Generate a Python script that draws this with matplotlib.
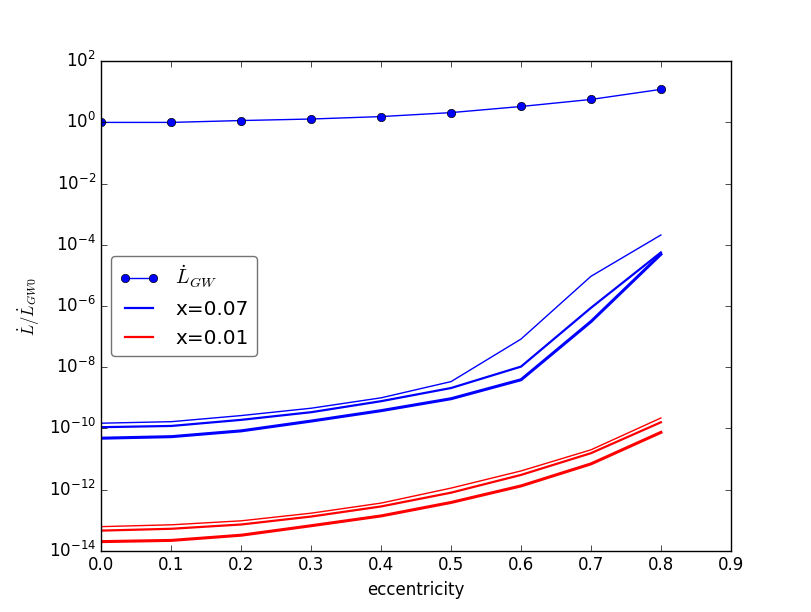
import numpy as np
import matplotlib
matplotlib.use("Agg")
import matplotlib.pyplot as plt
from matplotlib.ticker import LogLocator, NullLocator

# eccentricity grid
ecc = [0.0, 0.1, 0.2, 0.3, 0.4, 0.5, 0.6, 0.7, 0.8]

# GW luminosity (normalised)
L_gw = [1.0, 1.0, 1.15, 1.29, 1.55, 2.09, 3.31, 5.62, 12.0]

# x=0.07 curves (log10 values): thin, medium, thick
blue_thin = [-9.83, -9.78, -9.58, -9.34, -9.00, -8.47, -7.08, -5.03, -3.68]
blue_med = [-9.96, -9.92, -9.72, -9.47, -9.11, -8.68, -7.98, -6.06, -4.25]
blue_thick = [-10.32, -10.27, -10.08, -9.76, -9.42, -9.03, -8.41, -6.51, -4.31]

# x=0.01 curves (log10 values)
red_thin = [-13.21, -13.15, -13.02, -12.77, -12.44, -11.95, -11.39, -10.70, -9.66]
red_med = [-13.34, -13.28, -13.14, -12.88, -12.55, -12.10, -11.52, -10.81, -9.80]
red_thick = [-13.70, -13.66, -13.49, -13.18, -12.86, -12.42, -11.88, -11.16, -10.13]

plt.style.use("classic")
fig = plt.figure(figsize=(8.12, 6.12), dpi=100)
ax = fig.add_subplot(111)

ax.plot(ecc, L_gw, "bo-", label=r"$\dot{L}_{GW}$")
ax.plot(ecc, 10 ** np.array(blue_thin), "b-", lw=1)
ax.plot(ecc, 10 ** np.array(blue_med), "b-", lw=1.6, label="x=0.07")
ax.plot(ecc, 10 ** np.array(blue_thick), "b-", lw=2.2)
ax.plot(ecc, 10 ** np.array(red_thin), "r-", lw=1)
ax.plot(ecc, 10 ** np.array(red_med), "r-", lw=1.6, label="x=0.01")
ax.plot(ecc, 10 ** np.array(red_thick), "r-", lw=2.2)

ax.set_yscale("log")
ax.set_xlim(0, 0.9)
ax.set_ylim(1e-14, 1e2)
ax.yaxis.set_major_locator(LogLocator(base=100.0))
ax.yaxis.set_minor_locator(NullLocator())
ax.set_xlabel("eccentricity")
ax.set_ylabel(r"$\dot{L}/\dot{L}_{GW0}$")
leg = ax.legend(loc="center left", numpoints=2, fancybox=True)
leg.get_frame().set_edgecolor("0.45")

fig.savefig("out.png", dpi=100)
